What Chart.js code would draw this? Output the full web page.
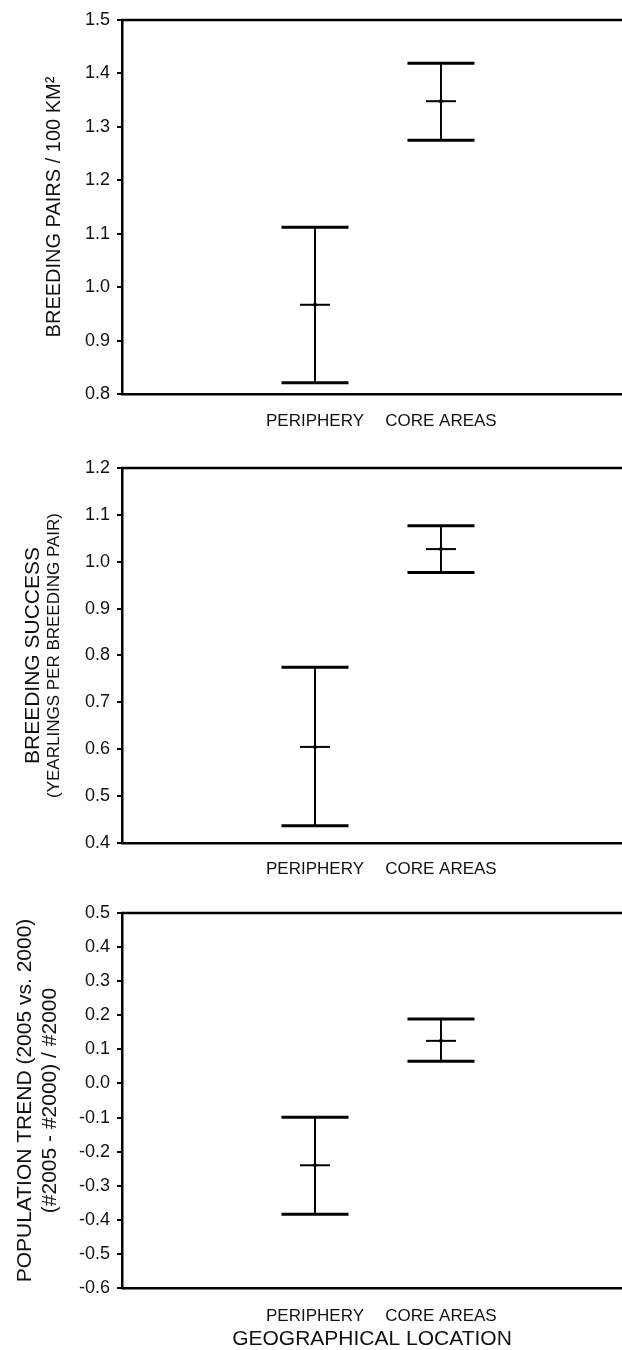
<!DOCTYPE html>
<html lang="en">
<head>
<meta charset="UTF-8">
<title>Breeding pairs, breeding success and population trend by location</title>
<script src="https://cdn.jsdelivr.net/npm/chart.js"></script>
<style>
  body { margin: 0; background: #fff; overflow: hidden; }
  .panel { position: relative; width: 622px; }
  .panel canvas { display: block; }
  #p1 { height: 447px; }
  #p2 { height: 446px; }
  #p3 { height: 457px; }
</style>
</head>
<body>
<div class="panel" id="p1"><canvas id="c1"></canvas></div>
<div class="panel" id="p2"><canvas id="c2"></canvas></div>
<div class="panel" id="p3"><canvas id="c3"></canvas></div>
<script>
// categories and their slot on the x axis
const locations = ['PERIPHERY', 'CORE AREAS'];
const locationX = [1, 2];

// top panel: breeding pairs / 100 km2
const pairsMean = [0.967, 1.348];
const pairsLow = [0.821, 1.275];
const pairsHigh = [1.112, 1.419];
const pairsTicks = [0.8, 0.9, 1.0, 1.1, 1.2, 1.3, 1.4, 1.5];

// middle panel: breeding success
const successMean = [0.605, 1.027];
const successLow = [0.437, 0.977];
const successHigh = [0.775, 1.077];
const successTicks = [0.4, 0.5, 0.6, 0.7, 0.8, 0.9, 1.0, 1.1, 1.2];

// bottom panel: population trend 2005 vs 2000
const trendMean = [-0.240, 0.125];
const trendLow = [-0.384, 0.065];
const trendHigh = [-0.099, 0.189];
const trendTicks = [-0.6, -0.5, -0.4, -0.3, -0.2, -0.1, 0.0, 0.1, 0.2, 0.3, 0.4, 0.5];

const FONT = "'Liberation Sans', Arial, Helvetica, sans-serif";
Chart.defaults.font.family = FONT;
Chart.defaults.color = '#111';

// rotated y titles, one or two lines
const yTitles = {
    id: 'yTitles',
    afterDraw(chart, args, opts) {
        const ctx = chart.ctx;
        const a = chart.chartArea;
        const cy = (a.top + a.bottom) / 2;
        ctx.save();
        ctx.fillStyle = '#111';
        ctx.textAlign = 'center';
        ctx.textBaseline = 'middle';
        opts.lines.forEach(l => {
            ctx.save();
            ctx.translate(l.x, cy);
            ctx.rotate(-Math.PI / 2);
            ctx.font = l.size + 'px ' + FONT;
            ctx.fillText(l.text, 0, 0);
            ctx.restore();
        });
        ctx.restore();
    }
};

// the frame line along the top of the plot
const topLine = {
    id: 'topLine',
    afterDraw(chart) {
        const ctx = chart.ctx;
        const a = chart.chartArea;
        ctx.save();
        ctx.strokeStyle = '#000';
        ctx.lineWidth = 2.5;
        ctx.beginPath();
        ctx.moveTo(a.left - 1, a.top);
        ctx.lineTo(a.right, a.top);
        ctx.stroke();
        ctx.restore();
    }
};

function makePanel(canvasId, mean, low, high, ticks, titleLines, opt) {
    const datasets = [];
    locationX.forEach((x, i) => {
        datasets.push({
            data: [{ x: x, y: low[i] }, { x: x, y: high[i] }],
            showLine: true,
            borderColor: '#000',
            borderWidth: 2,
            pointStyle: 'line',
            pointRadius: 33.5,
            pointBorderWidth: 3,
            pointBorderColor: '#000'
        });
    });
    datasets.push({
        data: locationX.map((x, i) => ({ x: x, y: mean[i] })),
        pointStyle: 'line',
        pointRadius: 15,
        pointBorderWidth: 2,
        pointBorderColor: '#000'
    });
    datasets.push({
        data: locationX.map((x, i) => ({ x: x, y: mean[i] })),
        pointStyle: 'circle',
        pointRadius: 2,
        pointBorderWidth: 0,
        pointBackgroundColor: '#000'
    });

    return new Chart(document.getElementById(canvasId), {
        type: 'scatter',
        data: { datasets: datasets },
        options: {
            responsive: true,
            maintainAspectRatio: false,
            animation: false,
            layout: { autoPadding: false, padding: { top: opt.top, left: 0, right: 0, bottom: 0 } },
            plugins: {
                legend: { display: false },
                tooltip: { enabled: false },
                yTitles: { lines: titleLines }
            },
            scales: {
                x: {
                    type: 'linear',
                    min: -0.532,
                    max: 3.437,
                    afterBuildTicks: s => { s.ticks = locationX.map(v => ({ value: v })); },
                    afterFit: s => { s.height = opt.xHeight; },
                    ticks: {
                        callback: (v, i) => locations[i],
                        font: { size: 17 },
                        color: '#111',
                        padding: opt.labelPad,
                        maxRotation: 0,
                        autoSkip: false
                    },
                    grid: { display: false },
                    border: { display: true, color: '#000', width: 2.5 },
                    title: opt.xTitle ? {
                        display: true,
                        text: opt.xTitle,
                        font: { size: 21 },
                        color: '#111',
                        padding: { top: 0, bottom: -2 }
                    } : { display: false }
                },
                y: {
                    min: ticks[0],
                    max: ticks[ticks.length - 1],
                    afterBuildTicks: s => { s.ticks = ticks.map(v => ({ value: v })); },
                    afterFit: s => { s.width = 122; },
                    ticks: {
                        callback: v => v.toFixed(1),
                        font: { size: 18 },
                        color: '#111',
                        padding: 7
                    },
                    grid: {
                        display: true,
                        drawOnChartArea: false,
                        drawTicks: true,
                        tickLength: 5,
                        color: '#000',
                        lineWidth: 2
                    },
                    border: { display: true, color: '#000', width: 2.5 }
                }
            }
        },
        plugins: [yTitles, topLine]
    });
}

makePanel('c1', pairsMean, pairsLow, pairsHigh, pairsTicks,
    [{ text: 'BREEDING PAIRS / 100 KM\u00B2', x: 54, size: 20 }],
    { top: 20, xHeight: 53, labelPad: 9 });

makePanel('c2', successMean, successLow, successHigh, successTicks,
    [{ text: 'BREEDING SUCCESS', x: 33, size: 21 },
     { text: '(YEARLINGS PER BREEDING PAIR)', x: 54, size: 17 }],
    { top: 21, xHeight: 50, labelPad: 8 });

makePanel('c3', trendMean, trendLow, trendHigh, trendTicks,
    [{ text: 'POPULATION TREND (2005 vs. 2000)', x: 25, size: 21 },
     { text: '(#2005 - #2000) / #2000', x: 50, size: 21 }],
    { top: 20, xHeight: 62, labelPad: 10, xTitle: 'GEOGRAPHICAL LOCATION' });
</script>
</body>
</html>
